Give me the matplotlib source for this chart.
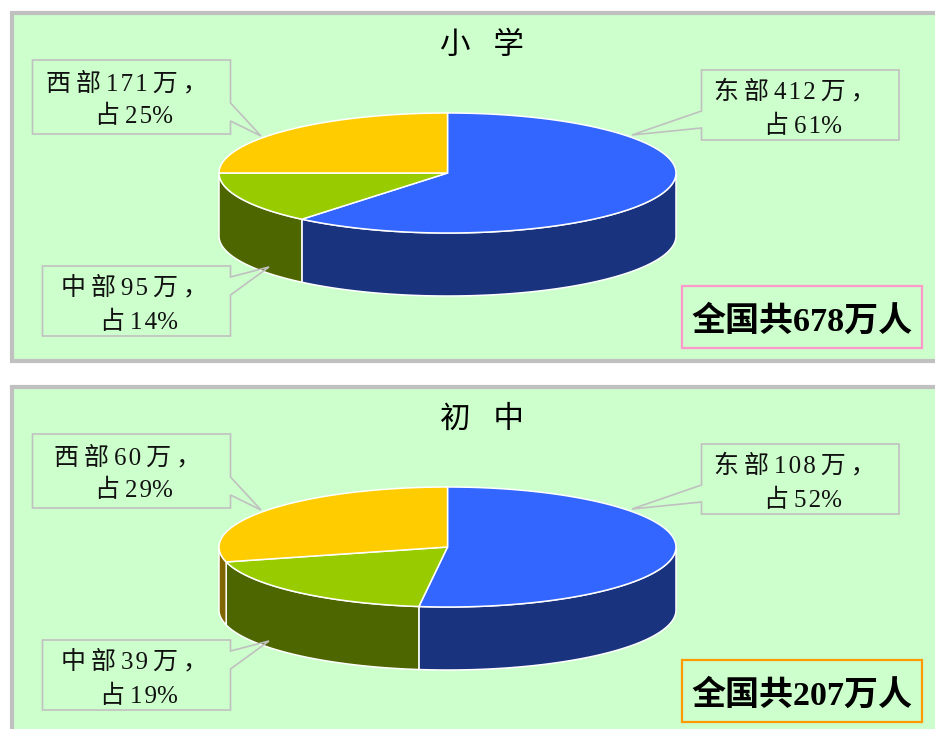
import numpy as np
import matplotlib
matplotlib.use("Agg")
import matplotlib.pyplot as plt
from matplotlib.patches import Polygon, Rectangle

regions = ['东', '中', '西']
titles = ['小   学', '初   中']
primary = [412, 95, 171]
middle = [108, 39, 60]
primary_pct = [61, 14, 25]
middle_pct = [52, 19, 29]
totals = [678, 207]

top_colors = ['#3366FF', '#99CC00', '#FFCC00']
side_colors = ['#1A337F', '#4D6600', '#806600']
total_edges = ['#FF99CC', '#FF9900']

SERIF = ['Liberation Serif', 'Noto Sans CJK SC']
GREY = '#C0C0C0'
TS = '\u2009'
HS = '\u200a'

fig = plt.figure(figsize=(9.35, 7.29), dpi=100)
ax = fig.add_axes([0, 0, 1, 1])
ax.set_xlim(0, 935)
ax.set_ylim(729, 0)
ax.axis('off')


def ell(cx, cy, ang):
    return np.column_stack([cx + 228.5 * np.cos(ang), cy - 60 * np.sin(ang)])


#slices follow the rounded percentages, the picture does too
def draw_pie(vals, cx, cy, depth=63):
    fr = np.array(vals) / sum(vals)
    edges = np.pi / 2 - 2 * np.pi * np.concatenate([[0], np.cumsum(fr)])
    #sides first, only the front half shows
    for i in range(len(vals)):
        a0 = min(edges[i], 0)
        a1 = max(edges[i + 1], -np.pi)
        if a0 <= a1:
            continue
        t = np.linspace(a0, a1, 80)
        up = ell(cx, cy, t)
        down = up[::-1] + [0, depth]
        ax.add_patch(Polygon(np.vstack([up, down]), closed=True, fc=side_colors[i],
                             ec='white', lw=1.1, zorder=3))
    for i in range(len(vals)):
        t = np.linspace(edges[i], edges[i + 1], 120)
        pts = np.vstack([[cx, cy], ell(cx, cy, t)])
        ax.add_patch(Polygon(pts, closed=True, fc=top_colors[i], ec='white',
                             lw=1.1, zorder=4, joinstyle='miter'))


def callout(pts, dy):
    xy = np.array(pts, dtype=float) + [0, dy]
    #outline goes over the pie, the pointer tips overlap it
    ax.add_patch(Polygon(xy, closed=True, fc='#CCFFCC', ec='none', zorder=2))
    ax.add_patch(Polygon(xy, closed=True, fc='none', ec=GREY, lw=1.2, zorder=5))


def label(x, y, s):
    ax.text(x, y, s, family=SERIF, fontsize=18, color='#111111', ha='left',
            va='center', zorder=6)


def spaced(n):
    return HS.join(str(n))


sets = [(primary, primary_pct, 0), (middle, middle_pct, 374)]
for p, (vals, pct, dy) in enumerate(sets):
    #panel, runs off the right side, second one also off the bottom
    if p == 0:
        ax.add_patch(Rectangle((11.5, 13), 960, 347.5, fc='#CCFFCC', ec=GREY, lw=3, zorder=1))
    else:
        ax.add_patch(Rectangle((11.5, 386.5), 960, 400, fc='#CCFFCC', ec=GREY, lw=3, zorder=1))

    ax.text(482, 46 + dy, titles[p], family=SERIF, fontsize=22, color='black',
            ha='center', va='center', zorder=6)

    callout([(701.5, 70), (899, 70), (899, 140), (701.5, 140), (701.5, 128), (632, 135), (701.5, 111)], dy)
    callout([(32.5, 60), (230.5, 60), (230.5, 103), (261, 136), (230.5, 121), (230.5, 134), (32.5, 134)], dy)
    callout([(42.5, 266), (230.5, 266), (230.5, 277), (269, 267), (230.5, 295), (230.5, 336), (42.5, 336)], dy)

    draw_pie(pct, 447.5, 173 + dy)

    left = [714, 61, 46 if p == 0 else 54]
    left2 = [764, 100, 95]
    ys = [(92, 126), (288, 322), (84, 116)]
    for i in range(3):
        label(left[i], ys[i][0] + dy, f"{regions[i]}{TS}部{TS}{spaced(vals[i])}{TS}万{TS}，")
        label(left2[i], ys[i][1] + dy, f"占{TS}{spaced(pct[i])}%")

    ax.add_patch(Rectangle((682, 286 + dy), 239.5, 61.5, fc='#CCFFCC', ec=total_edges[p],
                           lw=1.6, zorder=5))
    ax.text(802, 322 + dy, f"全国共{totals[p]}万人", family=SERIF, fontsize=24.5,
            fontweight='bold', color='black', ha='center', va='center', zorder=6)

fig.savefig('out.png', dpi=100)
